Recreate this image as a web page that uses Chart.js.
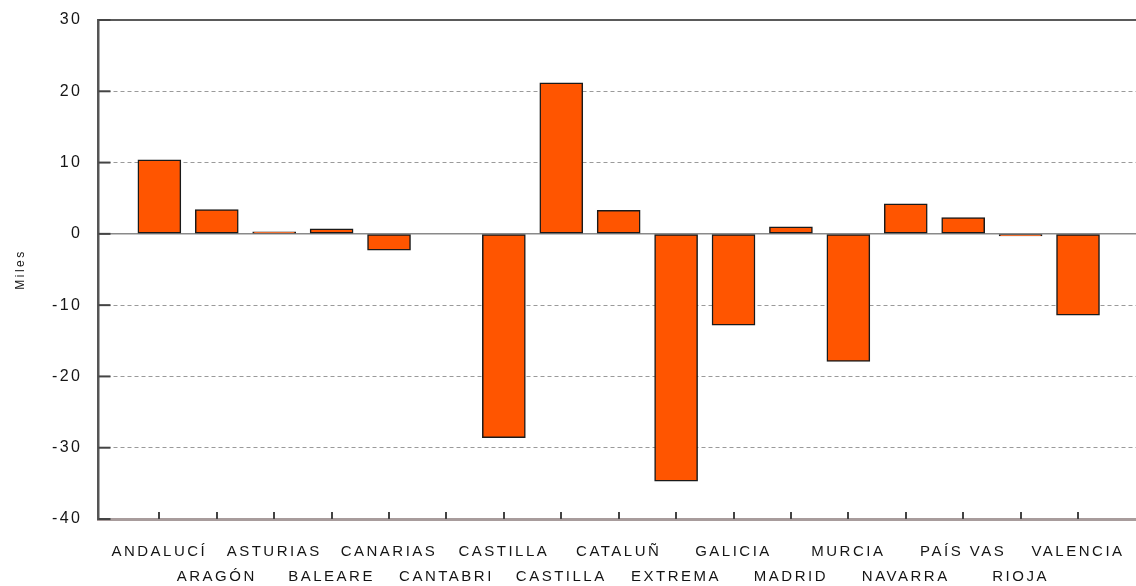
<!DOCTYPE html>
<html>
<head>
<meta charset="utf-8">
<script src="https://cdn.jsdelivr.net/npm/chart.js@4/dist/chart.umd.min.js"></script>
<style>
  html, body { margin: 0; padding: 0; background: #fff; }
  #wrap { width: 1136px; height: 586px; position: relative; }
</style>
</head>
<body>
<div id="wrap"><canvas id="c"></canvas></div>
<script>
const categories = ['ANDALUCÍ','ARAGÓN','ASTURIAS','BALEARE','CANARIAS','CANTABRI','CASTILLA','CASTILLA','CATALUÑ','EXTREMA','GALICIA','MADRID','MURCIA','NAVARRA','PAÍS VAS','RIOJA','VALENCIA'];
const values = [10.4, 3.4, 0.3, 0.7, -2.3, 0, -28.6, 21.2, 3.3, -34.7, -12.8, 1.0, -17.9, 4.2, 2.3, -0.3, -11.4];
const yTicks = [30, 20, 10, 0, -10, -20, -30, -40];
const yTitle = 'Miles';

const FONT = '"Liberation Sans", Arial, sans-serif';

const spacingPlugin = {
  id: 'spacing',
  beforeDraw(chart) { chart.ctx.letterSpacing = '2.5px'; }
};

const innerTicks = {
  id: 'innerTicks',
  afterDraw(chart) {
    const { ctx, chartArea: a, scales: { x, y } } = chart;
    ctx.save();
    ctx.letterSpacing = '0px';
    ctx.strokeStyle = '#444';
    ctx.lineWidth = 2;
    categories.forEach((c, i) => {
      const px = Math.round(x.getPixelForValue(i));
      ctx.beginPath(); ctx.moveTo(px, a.bottom); ctx.lineTo(px, a.bottom - 7); ctx.stroke();
    });
    yTicks.forEach(v => {
      const py = y.getPixelForValue(v);
      ctx.beginPath(); ctx.moveTo(a.left, py); ctx.lineTo(a.left + 12, py); ctx.stroke();
    });
    ctx.restore();
  }
};

new Chart(document.getElementById('c'), {
  type: 'bar',
  data: {
    datasets: [{
      data: values.map((v, i) => ({ x: i, y: v })),
      backgroundColor: '#ff5500',
      borderColor: '#1a1a1a',
      borderWidth: 1.5,
      borderSkipped: false,
      barThickness: 43
    }]
  },
  options: {
    responsive: true,
    maintainAspectRatio: false,
    animation: false,
    layout: { padding: { left: 0, top: 20, right: 0, bottom: 0 } },
    plugins: { legend: { display: false }, tooltip: { enabled: false } },
    scales: {
      x: {
        type: 'linear',
        offset: false,
        min: -1.06,
        max: 17.01,
        afterBuildTicks: s => { s.ticks = categories.map((c, i) => ({ value: i })); },
        afterFit: s => { s.height = 67; s.paddingLeft = 0; s.paddingRight = 0; },
        grid: { display: true, drawOnChartArea: false, drawTicks: false, offset: false },
        border: { display: true, color: '#a89c9c', width: 3 },
        ticks: {
          autoSkip: false,
          maxRotation: 0,
          minRotation: 0,
          padding: 20,
          color: '#151515',
          font: { family: FONT, size: 15, lineHeight: 1.7 },
          callback: (v) => {
            const i = Math.round(v);
            return i % 2 === 0 ? [categories[i], ''] : ['', categories[i]];
          }
        }
      },
      y: {
        min: -40,
        max: 30,
        afterBuildTicks: s => { s.ticks = yTicks.map(v => ({ value: v })); },
        afterFit: s => { s.width = 98.5; s.paddingTop = 0; s.paddingBottom = 0; },
        grid: {
          drawTicks: false,
          color: c => {
            const v = c.tick && c.tick.value;
            if (v === 30) return '#5a5a5a';
            if (v === 0) return '#8a8a8a';
            if (v === -40) return 'rgba(0,0,0,0)';
            return '#9a9a9a';
          },
          lineWidth: c => {
            const v = c.tick && c.tick.value;
            if (v === 30) return 2;
            if (v === 0) return 1.5;
            return 1;
          }
        },
        border: {
          display: true,
          color: '#555',
          width: 2.5,
          dash: c => {
            const v = c.tick && c.tick.value;
            if (v === undefined || v === 0 || v === 30 || v === -40) return [];
            return [4, 3];
          }
        },
        ticks: {
          padding: 16,
          color: '#151515',
          font: { family: FONT, size: 16 }
        },
        title: {
          display: true,
          text: yTitle,
          color: '#151515',
          font: { family: FONT, size: 12 },
          padding: { top: 13, bottom: 0 }
        }
      }
    }
  },
  plugins: [spacingPlugin, innerTicks]
});
</script>
</body>
</html>
